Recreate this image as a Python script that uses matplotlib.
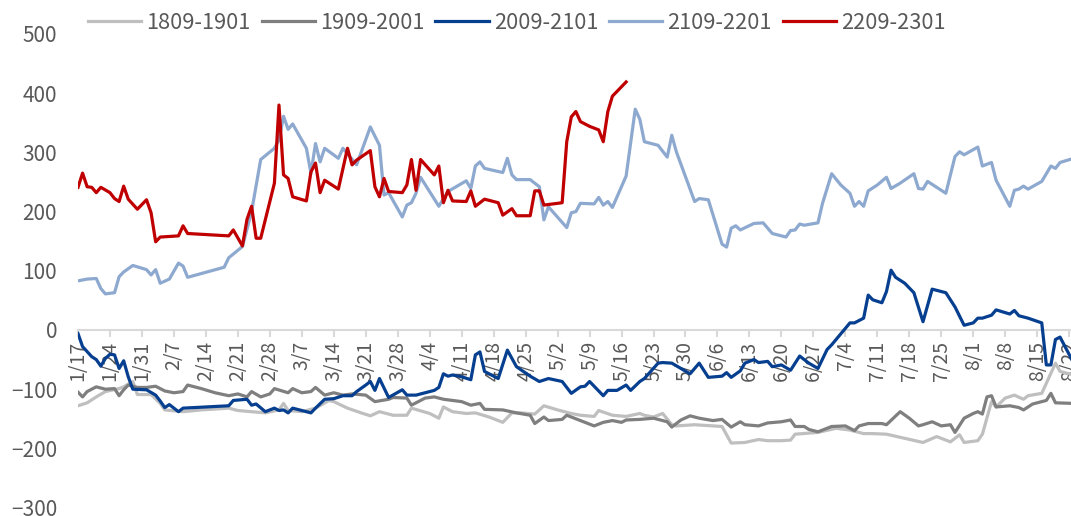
import matplotlib
matplotlib.use("Agg")
import matplotlib.pyplot as plt
import pandas as pd

plt.rcParams['font.family'] = ['Noto Sans CJK SC', 'DejaVu Sans']

# ----------------------------------------------------------------------
#   Data  (x = days since 1/17, y = spread)
# ----------------------------------------------------------------------
start_date = '2022-01-17'

days_1809 = [0, 2, 4, 6, 9, 10, 12, 13, 16, 18, 19, 23, 27, 33, 35, 38, 41, 44, 45, 46, 49, 52, 55, 56,
             59, 62, 64, 66, 69, 72, 73, 77, 79, 80, 82, 85, 87, 90, 93, 95, 97, 100, 102, 105, 108, 110,
             113, 114, 117, 120, 123, 124, 126, 128, 130, 131, 135, 139, 141, 143, 146, 149, 151, 154,
             156, 157, 162, 166, 169, 172, 174, 177, 181, 185, 188, 191, 193, 194, 197, 198, 200, 201,
             203, 205, 207, 208, 211, 212, 214, 215, 218]
vals_1809 = [-128, -123, -113, -104, -99, -96, -87, -109, -109, -124, -135, -138, -135, -132, -136, -138,
             -140, -135, -124, -136, -138, -132, -119, -121, -132, -140, -145, -138, -144, -144, -132, -141,
             -149, -130, -138, -141, -140, -147, -156, -140, -140, -142, -128, -135, -141, -144, -146, -136,
             -144, -146, -141, -144, -147, -141, -160, -162, -160, -162, -163, -191, -190, -185, -187, -187,
             -186, -176, -173, -166, -169, -175, -175, -176, -183, -190, -180, -189, -177, -190, -187, -176,
             -121, -130, -115, -110, -117, -111, -107, -90, -56, -70, -76]

days_1909 = [0, 1, 2, 4, 6, 8, 9, 10, 11, 13, 15, 17, 19, 21, 23, 24, 27, 30, 33, 35, 37, 38, 40, 42, 43,
             46, 47, 49, 51, 52, 54, 56, 58, 60, 63, 65, 68, 69, 72, 73, 76, 78, 80, 84, 86, 88, 89, 93, 96,
             99, 100, 102, 103, 106, 107, 110, 113, 115, 117, 119, 120, 123, 126, 129, 130, 132, 134, 136,
             139, 141, 143, 145, 146, 149, 151, 154, 156, 157, 159, 160, 162, 165, 168, 170, 171, 173, 176,
             177, 180, 182, 184, 185, 187, 189, 191, 192, 194, 196, 197, 198, 199, 200, 201, 204, 206, 207,
             209, 212, 213, 214, 218]
vals_1909 = [-105, -113, -104, -96, -100, -99, -111, -101, -93, -97, -97, -95, -103, -106, -104, -93, -99,
             -106, -111, -108, -113, -104, -113, -108, -99, -106, -99, -106, -104, -97, -110, -106, -110,
             -108, -110, -121, -117, -114, -115, -127, -115, -113, -117, -121, -127, -124, -134, -135, -140,
             -144, -158, -147, -153, -151, -144, -153, -162, -156, -153, -156, -152, -151, -149, -155, -164,
             -152, -145, -149, -153, -151, -164, -155, -160, -162, -157, -155, -152, -163, -163, -168, -172,
             -163, -162, -170, -162, -158, -158, -160, -138, -149, -162, -160, -155, -162, -160, -173, -149,
             -141, -138, -142, -113, -111, -130, -128, -131, -135, -125, -119, -107, -123, -124]

days_2009 = [0, 1, 3, 4, 5, 6, 7, 8, 9, 10, 11, 12, 15, 17, 18, 19, 20, 22, 23, 33, 34, 37, 38, 39, 41, 43,
             44, 45, 46, 47, 51, 52, 54, 56, 58, 60, 61, 63, 64, 65, 66, 68, 71, 72, 74, 78, 79, 80, 81, 82,
             84, 86, 87, 88, 89, 92, 94, 96, 99, 101, 103, 106, 108, 110, 111, 112, 115, 116, 118, 120, 121,
             123, 124, 127, 128, 130, 134, 136, 138, 141, 142, 143, 145, 146, 148, 149, 151, 152, 154, 156,
             158, 160, 162, 164, 165, 169, 170, 172, 173, 174, 176, 177, 178, 179, 181, 183, 185, 187, 190,
             192, 194, 196, 197, 198, 200, 201, 204, 205, 206, 208, 211, 212, 213, 214, 215, 218]
vals_2009 = [-6, -28, -45, -50, -61, -48, -41, -42, -65, -52, -79, -100, -101, -110, -120, -131, -126, -138,
             -132, -128, -119, -117, -127, -125, -138, -132, -136, -135, -140, -132, -140, -132, -117, -116,
             -111, -111, -104, -93, -87, -102, -82, -114, -101, -110, -110, -102, -97, -74, -78, -76, -79,
             -84, -42, -37, -70, -82, -34, -62, -78, -87, -82, -87, -107, -96, -95, -87, -111, -102, -102,
             -93, -102, -87, -82, -56, -55, -56, -74, -56, -80, -78, -72, -80, -69, -56, -50, -55, -53, -62,
             -59, -68, -44, -56, -65, -33, -25, 12, 12, 20, 59, 51, 46, 65, 101, 89, 79, 63, 14, 69, 63, 39,
             8, 12, 20, 20, 25, 34, 27, 33, 24, 20, 12, -59, -59, -16, -12, -56]

days_2109 = [0, 2, 4, 5, 6, 8, 9, 10, 12, 15, 16, 17, 18, 20, 22, 23, 24, 32, 33, 36, 38, 40, 43, 44, 45,
             46, 47, 50, 51, 52, 53, 54, 57, 58, 61, 64, 66, 67, 68, 71, 72, 73, 74, 75, 79, 81, 85, 86, 87,
             88, 89, 93, 94, 95, 96, 99, 101, 102, 103, 107, 108, 109, 110, 113, 114, 115, 116, 117, 120,
             122, 123, 124, 127, 129, 130, 131, 135, 136, 137, 138, 141, 142, 143, 144, 145, 148, 150, 152,
             155, 156, 157, 158, 159, 162, 163, 165, 167, 169, 170, 171, 172, 173, 175, 177, 178, 180, 183,
             184, 185, 186, 190, 191, 192, 193, 194, 197, 198, 200, 201, 204, 205, 206, 207, 208, 211, 213,
             214, 215, 218]
vals_2109 = [83, 86, 87, 70, 61, 63, 90, 98, 109, 102, 93, 102, 79, 86, 113, 108, 89, 106, 122, 141, 200,
             288, 307, 321, 361, 339, 348, 307, 265, 315, 284, 307, 290, 307, 279, 343, 312, 228, 232, 191,
             211, 215, 231, 258, 209, 234, 252, 239, 277, 284, 273, 266, 290, 262, 254, 254, 242, 186, 208,
             173, 198, 200, 214, 213, 224, 211, 217, 207, 260, 373, 356, 318, 312, 292, 329, 301, 217, 222,
             221, 220, 145, 140, 172, 176, 169, 180, 181, 163, 157, 168, 169, 179, 177, 181, 214, 264, 245,
             231, 209, 217, 209, 235, 245, 258, 239, 248, 264, 239, 238, 251, 231, 262, 293, 301, 296, 309,
             277, 283, 253, 209, 236, 238, 243, 238, 251, 277, 273, 283, 290]

days_2209 = [0, 1, 2, 3, 4, 5, 7, 8, 9, 10, 11, 13, 15, 16, 17, 18, 22, 23, 24, 33, 34, 36, 37, 38, 39, 40,
             43, 44, 45, 46, 47, 50, 51, 52, 53, 54, 57, 59, 60, 61, 64, 65, 66, 67, 68, 71, 72, 73, 74, 75,
             78, 79, 80, 81, 82, 85, 86, 87, 89, 92, 93, 95, 96, 99, 100, 101, 102, 106, 107, 108, 109, 110,
             112, 114, 115, 116, 117, 120]
vals_2209 = [241, 265, 242, 241, 232, 241, 232, 222, 217, 243, 221, 204, 220, 198, 149, 157, 159, 176, 163,
             159, 169, 142, 187, 209, 155, 155, 248, 380, 262, 256, 225, 218, 267, 282, 232, 253, 238, 307,
             279, 287, 303, 242, 225, 256, 234, 232, 245, 288, 236, 288, 262, 277, 215, 236, 218, 217, 235,
             209, 221, 215, 194, 205, 193, 193, 235, 235, 211, 215, 318, 360, 369, 352, 344, 338, 318, 369,
             395, 419]

labels = ['1809-1901', '1909-2001', '2009-2101', '2109-2201', '2209-2301']
colors = ['#BFBFBF', '#7F7F7F', '#063F8F', '#8EA9CF', '#C00000']

# ----------------------------------------------------------------------
#   Plot
# ----------------------------------------------------------------------
fig = plt.figure(figsize=(10.71, 5.16), dpi=100)
ax = fig.add_axes([78 / 1071, 1 - 507.6 / 516, 1 - 78 / 1071, (507.6 - 34) / 516])

series = [(days_1809, vals_1809), (days_1909, vals_1909), (days_2009, vals_2009),
          (days_2109, vals_2109), (days_2209, vals_2209)]
for (d, v), lab, col in zip(series, labels, colors):
    ax.plot(d, v, color=col, lw=2.3, label=lab, zorder=3, solid_joinstyle='round')

# x axis sits on y = 0 (set before the tick labels, it resets the ticks)
for s in ['top', 'right', 'left']:
    ax.spines[s].set_visible(False)
ax.spines['bottom'].set_position(('data', 0))
ax.spines['bottom'].set_color('#D9D9D9')
ax.spines['bottom'].set_linewidth(1.5)
ax.spines['bottom'].set_zorder(1)

ax.set_xlim(0, 217.4)
ax.set_ylim(-300, 500)
ax.set_yticks(range(-300, 501, 100))

tick_days = list(range(0, 218, 7))
tick_dates = pd.to_datetime(start_date) + pd.to_timedelta(tick_days, unit='D')
ax.set_xticks(tick_days)
ax.set_xticklabels([f'{t.month}/{t.day}' for t in tick_dates])

ax.tick_params(axis='x', colors='#D9D9D9', length=5, width=1.5, direction='out',
               labelcolor='#595959', labelsize=14, pad=3, labelrotation=90)
ax.tick_params(axis='y', length=0, labelcolor='#595959', labelsize=15, pad=15)

fig.legend(loc='center left', bbox_to_anchor=(88 / 1071, 1 - 23 / 516), ncol=5, frameon=False,
           fontsize=15.7, handlelength=2.45, handletextpad=0.23, columnspacing=0.5,
           borderpad=0, borderaxespad=0, labelcolor='#595959')

fig.savefig('out.png', dpi=100)
